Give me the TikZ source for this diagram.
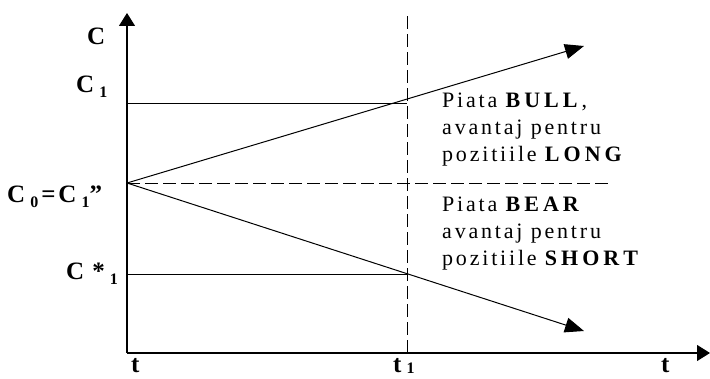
\documentclass[tikz,border=0pt]{standalone}
\usepackage{fontspec}
\setmainfont{Liberation Serif}
\usetikzlibrary{arrows.meta,positioning}
\newcommand{\lowsub}[1]{\hspace{5pt}{\fontsize{16}{16}\selectfont\raisebox{-5pt}{#1}}}
\makeatletter
\newcommand{\track}[2][2.8pt]{\@tfor\tr@ck:=#2\do{\tr@ck\kern#1}}
\makeatother

\begin{document}
\begin{tikzpicture}[x=1pt,y=-1pt,
    axis/.style={line width=1.2pt,-{Triangle[length=13pt,width=16pt]}},
    ray/.style={line width=1pt,-{Triangle[length=19pt,width=15pt]}},
    level/.style={line width=0.9pt},
    guide/.style={line width=0.9pt,dash pattern=on 13pt off 5pt},
    lbl/.style={font=\fontsize{25}{25}\selectfont\bfseries,inner sep=0pt,anchor=base west},
    note/.style={font=\fontsize{22}{27}\selectfont,align=left,
        inner sep=0pt,anchor=north west}
]
\useasboundingbox (0,0) rectangle (710,379);
\coordinate (O) at (127,353);
\coordinate (ytop) at (127,13);
\coordinate (xend) at (710,353);
\coordinate (C0) at (127,183);
\coordinate (C1) at (127,103);
\coordinate (Cs) at (127,274);
\coordinate (t1) at (407,353);
\coordinate (t1top) at (407,12);
\coordinate (midend) at (610,183);
\coordinate (bull) at (584,46);
\coordinate (bear) at (584,331);

\draw[guide] (t1) -- (t1top);
\draw[guide] (C0) -- (midend);
\draw[level] (C1) -- (C1 -| t1);
\draw[level] (Cs) -- (Cs -| t1);
\draw[ray] (C0) -- (bull);
\draw[ray] (C0) -- (bear);
\draw[axis] (O) -- (ytop);
\draw[axis] (O) -- (xend);

\node[lbl] (labC) at (87,45) {C};
\node[lbl] (labC1) at (76,93) {C\lowsub{1}};
\node[lbl] (labC0) at (7,203) {C\lowsub{0}\hspace{3pt}=\hspace{3pt}C\lowsub{1}”};
\node[lbl] (labCs) at (66,280) {C\hspace{8pt}*\lowsub{1}};
\node[lbl] (labt0) at (131,373) {t};
\node[lbl] (labt1) at (393,373) {t\hspace{5pt}{\fontsize{16}{16}\selectfont\raisebox{-1pt}{1}}};
\node[lbl] (labt) at (661,373) {t};

\node[note] (bullnote) at (442,93)
    {\track{Piata} \textbf{\track[4pt]{BULL}},\\\track{avantaj} \track{pentru}\\
     \track{pozitiile} \textbf{\track[4pt]{LONG}}};
\node[note] (bearnote) at (442,197)
    {\track{Piata} \textbf{\track[4pt]{BEAR}}\\\track{avantaj} \track{pentru}\\
     \track{pozitiile} \textbf{\track[4pt]{SHORT}}};
\end{tikzpicture}
\end{document}
